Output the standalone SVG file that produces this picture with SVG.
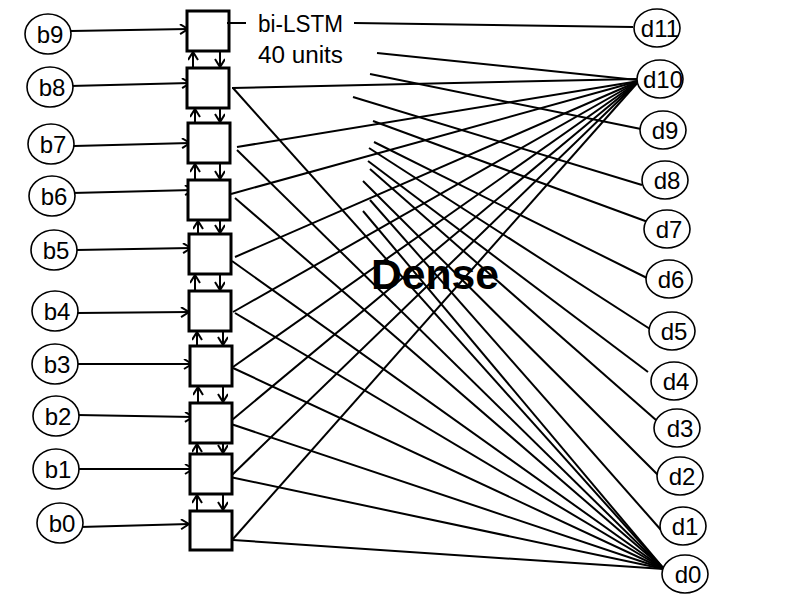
<svg xmlns="http://www.w3.org/2000/svg" width="800" height="600" viewBox="0 0 800 600">
<style>
.bg{fill:#ffffff}
.node ellipse{fill:#ffffff;stroke:#000;stroke-width:1.6}
.node rect{fill:#ffffff;stroke:#000;stroke-width:3}
.lbl{font-family:"Liberation Sans",Arial,sans-serif;font-size:24px;fill:#000;text-anchor:middle}
.txt{font-family:"Liberation Sans",Arial,sans-serif;font-size:23px;fill:#000}
.big{font-family:"Liberation Sans",Arial,sans-serif;font-size:42px;font-weight:bold;fill:#000}
.c line{stroke:#000;stroke-width:2;fill:none}
.c .ar{marker-end:url(#v)}
</style>
<defs>
<marker id="v" markerUnits="userSpaceOnUse" markerWidth="12" markerHeight="12" refX="9" refY="5" orient="auto">
<path d="M1,0 L9,5 L1,10" fill="none" stroke="#000" stroke-width="2"/>
</marker>
</defs>
<rect class="bg" x="0" y="0" width="800" height="600"/>

<g id="connectors" class="c">
<!-- inputs -->
<line class="ar" x1="71" y1="31" x2="188" y2="29"/>
<line class="ar" x1="70" y1="86" x2="190" y2="83"/>
<line class="ar" x1="74" y1="146" x2="190" y2="143"/>
<line class="ar" x1="72" y1="193" x2="193" y2="190"/>
<line class="ar" x1="76" y1="250" x2="191" y2="248"/>
<line class="ar" x1="77" y1="313" x2="189" y2="312"/>
<line class="ar" x1="76" y1="364" x2="192" y2="364"/>
<line class="ar" x1="77" y1="415" x2="193" y2="417"/>
<line class="ar" x1="78" y1="469" x2="193" y2="469"/>
<line class="ar" x1="80" y1="527" x2="189" y2="524"/>
<!-- recurrent up/down -->
<line class="ar" x1="193" y1="68" x2="193" y2="52"/>
<line class="ar" x1="220" y1="51" x2="220" y2="67"/>
<line class="ar" x1="195" y1="123" x2="195" y2="109"/>
<line class="ar" x1="220" y1="108" x2="220" y2="122"/>
<line class="ar" x1="195" y1="180" x2="195" y2="164"/>
<line class="ar" x1="220" y1="163" x2="220" y2="179"/>
<line class="ar" x1="198" y1="234" x2="198" y2="221"/>
<line class="ar" x1="220" y1="220" x2="220" y2="233"/>
<line class="ar" x1="195" y1="291" x2="195" y2="275"/>
<line class="ar" x1="220" y1="274" x2="220" y2="290"/>
<line class="ar" x1="197" y1="346" x2="197" y2="332"/>
<line class="ar" x1="223" y1="331" x2="223" y2="345"/>
<line class="ar" x1="198" y1="403" x2="198" y2="387"/>
<line class="ar" x1="223" y1="386" x2="223" y2="402"/>
<line class="ar" x1="197" y1="454" x2="197" y2="444"/>
<line class="ar" x1="223" y1="443" x2="223" y2="453"/>
<line class="ar" x1="197" y1="511" x2="197" y2="495"/>
<line class="ar" x1="223" y1="494" x2="223" y2="510"/>
<!-- bi-LSTM to d11 -->
<line x1="354" y1="23" x2="633" y2="27"/>
<!-- boxes to d10 -->
<line x1="232" y1="88" x2="637" y2="79"/>
<line x1="237" y1="147" x2="639" y2="81"/>
<line x1="231" y1="194" x2="639" y2="81"/>
<line x1="235" y1="257" x2="639" y2="81"/>
<line x1="233" y1="312" x2="639" y2="81"/>
<line x1="233" y1="367" x2="639" y2="81"/>
<line x1="232" y1="420" x2="639" y2="81"/>
<line x1="232" y1="475" x2="639" y2="81"/>
<line x1="233" y1="539" x2="639" y2="81"/>
<!-- boxes to d0 -->
<line x1="233" y1="88" x2="664" y2="569"/>
<line x1="237" y1="150" x2="664" y2="569"/>
<line x1="235" y1="198" x2="664" y2="569"/>
<line x1="232" y1="261" x2="664" y2="569"/>
<line x1="235" y1="313" x2="664" y2="569"/>
<line x1="233" y1="368" x2="664" y2="569"/>
<line x1="228" y1="423" x2="664" y2="569"/>
<line x1="230" y1="477" x2="664" y2="569"/>
<line x1="233" y1="540" x2="664" y2="569"/>
<!-- dense lines -->
<line x1="377" y1="53" x2="637" y2="80"/>
<line x1="370" y1="74" x2="641" y2="129"/>
<line x1="353" y1="97" x2="642" y2="185"/>
<line x1="373" y1="121" x2="648" y2="222"/>
<line x1="374" y1="142" x2="651" y2="280"/>
<line x1="369" y1="148" x2="650" y2="329"/>
<line x1="368" y1="161" x2="648" y2="372"/>
<line x1="370" y1="169" x2="656" y2="420"/>
<line x1="363" y1="181" x2="658" y2="475"/>
<line x1="370" y1="200" x2="661" y2="530"/>
<line x1="363" y1="211" x2="664" y2="569"/>
</g>

<g id="n-b9" class="node"><ellipse cx="48" cy="34" rx="23" ry="20"/><text class="lbl" x="50" y="43">b9</text></g>
<g id="n-b8" class="node"><ellipse cx="50" cy="87" rx="23" ry="20"/><text class="lbl" x="52" y="96">b8</text></g>
<g id="n-b7" class="node"><ellipse cx="51" cy="144" rx="23" ry="20"/><text class="lbl" x="53" y="153">b7</text></g>
<g id="n-b6" class="node"><ellipse cx="52" cy="196" rx="23" ry="20"/><text class="lbl" x="54" y="205">b6</text></g>
<g id="n-b5" class="node"><ellipse cx="54" cy="250" rx="23" ry="20"/><text class="lbl" x="56" y="259">b5</text></g>
<g id="n-b4" class="node"><ellipse cx="55" cy="311" rx="23" ry="20"/><text class="lbl" x="57" y="320">b4</text></g>
<g id="n-b3" class="node"><ellipse cx="55" cy="364" rx="23" ry="20"/><text class="lbl" x="57" y="373">b3</text></g>
<g id="n-b2" class="node"><ellipse cx="56" cy="416" rx="23" ry="20"/><text class="lbl" x="58" y="425">b2</text></g>
<g id="n-b1" class="node"><ellipse cx="56" cy="469" rx="23" ry="20"/><text class="lbl" x="58" y="478">b1</text></g>
<g id="n-b0" class="node"><ellipse cx="60" cy="523" rx="23" ry="20"/><text class="lbl" x="62" y="532">b0</text></g>

<g id="lstm9" class="node"><rect x="187" y="11" width="42" height="40"/></g>
<g id="lstm8" class="node"><rect x="187" y="68" width="42" height="40"/></g>
<g id="lstm7" class="node"><rect x="188" y="123" width="42" height="40"/></g>
<g id="lstm6" class="node"><rect x="188" y="180" width="42" height="40"/></g>
<g id="lstm5" class="node"><rect x="189" y="234" width="42" height="40"/></g>
<g id="lstm4" class="node"><rect x="189" y="291" width="42" height="40"/></g>
<g id="lstm3" class="node"><rect x="190" y="346" width="42" height="40"/></g>
<g id="lstm2" class="node"><rect x="190" y="403" width="42" height="40"/></g>
<g id="lstm1" class="node"><rect x="190" y="454" width="42" height="40"/></g>
<g id="lstm0" class="node"><rect x="190" y="511" width="42" height="39"/></g>

<g id="lstm-pointer" class="c"><line x1="227" y1="23" x2="246" y2="23"/></g>

<g id="n-d11" class="node"><ellipse cx="657" cy="28" rx="23" ry="19"/><text class="lbl" x="660" y="37">d11</text></g>
<g id="n-d10" class="node"><ellipse cx="660" cy="79" rx="23" ry="19"/><text class="lbl" x="663" y="88">d10</text></g>
<g id="n-d9" class="node"><ellipse cx="663" cy="130" rx="23" ry="19"/><text class="lbl" x="665" y="139">d9</text></g>
<g id="n-d8" class="node"><ellipse cx="665" cy="180" rx="23" ry="19"/><text class="lbl" x="667" y="189">d8</text></g>
<g id="n-d7" class="node"><ellipse cx="667" cy="229" rx="23" ry="19"/><text class="lbl" x="669" y="238">d7</text></g>
<g id="n-d6" class="node"><ellipse cx="669" cy="279" rx="23" ry="19"/><text class="lbl" x="671" y="288">d6</text></g>
<g id="n-d5" class="node"><ellipse cx="672" cy="331" rx="23" ry="19"/><text class="lbl" x="674" y="340">d5</text></g>
<g id="n-d4" class="node"><ellipse cx="674" cy="381" rx="23" ry="19"/><text class="lbl" x="676" y="390">d4</text></g>
<g id="n-d3" class="node"><ellipse cx="677" cy="428" rx="23" ry="19"/><text class="lbl" x="680" y="437">d3</text></g>
<g id="n-d2" class="node"><ellipse cx="680" cy="476" rx="23" ry="19"/><text class="lbl" x="682" y="485">d2</text></g>
<g id="n-d1" class="node"><ellipse cx="683" cy="526" rx="23" ry="19"/><text class="lbl" x="685" y="535">d1</text></g>
<g id="n-d0" class="node"><ellipse cx="685" cy="574" rx="23" ry="19"/><text class="lbl" x="688" y="583">d0</text></g>

<g id="labels">
<text class="txt" x="258" y="32" textLength="85" lengthAdjust="spacingAndGlyphs">bi-LSTM</text>
<text class="txt" x="258" y="63" textLength="85" lengthAdjust="spacingAndGlyphs">40 units</text>
<text class="big" x="371" y="289" textLength="128" lengthAdjust="spacingAndGlyphs">Dense</text>
</g>
</svg>
